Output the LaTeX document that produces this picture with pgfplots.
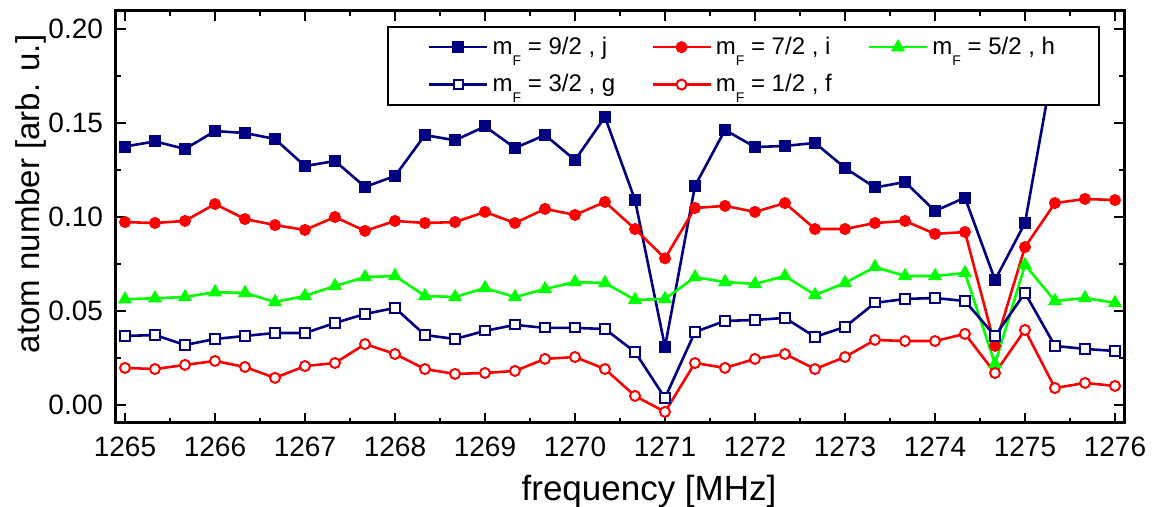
\documentclass[border=0pt]{standalone}
\usepackage{fontspec}
\setmainfont{Liberation Sans}
\usepackage{pgfplots}
\pgfplotsset{compat=1.18}
\usepackage{pgfplotstable}
\definecolor{navy}{RGB}{0,0,128}
\definecolor{pgreen}{RGB}{0,255,0}
\newcommand{\mF}{m\raisebox{-5.5pt}[0pt][0pt]{\fontsize{7}{8}\selectfont F}}

\pgfplotstableread{
x        j       i       h       g       f
1265.000 0.1375  0.0973  0.0562  0.0367  0.0197
1265.333 0.1402  0.0968  0.0568  0.0372  0.0191
1265.667 0.1362  0.0979  0.0574  0.0319  0.0213
1266.000 0.1457  0.1069  0.0600  0.0351  0.0234
1266.333 0.1447  0.0989  0.0596  0.0367  0.0202
1266.667 0.1415  0.0957  0.0548  0.0383  0.0144
1267.000 0.1271  0.0931  0.0580  0.0383  0.0207
1267.333 0.1298  0.1000  0.0633  0.0436  0.0223
1267.667 0.1160  0.0926  0.0680  0.0484  0.0324
1268.000 0.1218  0.0979  0.0686  0.0516  0.0271
1268.333 0.1436  0.0968  0.0580  0.0372  0.0191
1268.667 0.1408  0.0973  0.0574  0.0351  0.0165
1269.000 0.1482  0.1027  0.0622  0.0394  0.0170
1269.333 0.1367  0.0968  0.0574  0.0426  0.0181
1269.667 0.1436  0.1043  0.0617  0.0410  0.0245
1270.000 0.1303  0.1011  0.0654  0.0410  0.0255
1270.333 0.1532  0.1080  0.0649  0.0404  0.0191
1270.667 0.1090  0.0936  0.0559  0.0282  0.0048
1271.000 0.0309  0.0780  0.0564  0.0037  -0.0037
1271.333 0.1165  0.1048  0.0680  0.0388  0.0223
1271.667 0.1463  0.1059  0.0654  0.0447  0.0197
1272.000 0.1372  0.1027  0.0644  0.0452  0.0245
1272.333 0.1378  0.1074  0.0686  0.0463  0.0271
1272.667 0.1394  0.0936  0.0585  0.0362  0.0191
1273.000 0.1261  0.0936  0.0649  0.0415  0.0255
1273.333 0.1157  0.0968  0.0734  0.0543  0.0346
1273.667 0.1186  0.0979  0.0686  0.0564  0.0340
1274.000 0.1032  0.0910  0.0686  0.0569  0.0340
1274.333 0.1103  0.0920  0.0702  0.0553  0.0378
1274.667 0.0665  0.0314  0.0218  0.0367  0.0170
1275.000 0.0968  0.0840  0.0745  0.0596  0.0399
1275.333 0.1860  0.1074  0.0553  0.0314  0.0090
1275.667 nan     0.1096  0.0569  0.0298  0.0117
1276.000 nan     0.1090  0.0543  0.0287  0.0101
}\data

\begin{document}
\begin{tikzpicture}
\begin{axis}[
  scale only axis, width=504pt, height=206pt,
  xmin=1264.9, xmax=1276.1, ymin=-0.0096, ymax=0.2096,
  xtick={1265,1266,1267,1268,1269,1270,1271,1272,1273,1274,1275,1276},
  minor x tick num=1,
  ytick={0,0.05,0.1,0.15,0.2},
  minor y tick num=1,
  tick align=inside,
  major tick length=5pt, minor tick length=2.5pt,
  every tick/.style={black, line width=1pt},
  axis line style={black, line width=1.5pt},
  /pgf/number format/assume math mode=true,
  tick label style={font=\fontsize{14}{16}\selectfont},
  x tick label style={yshift=-3.5pt, /pgf/number format/1000 sep={}},
  y tick label style={xshift=-3pt, /pgf/number format/.cd, fixed, fixed zerofill, precision=2},
  xlabel={frequency [MHz]},
  ylabel={atom number [arb. u.]},
  xlabel style={font=\fontsize{17.5}{20}\selectfont, at={(axis description cs:0.5288,-0.165)}, anchor=center},
  ylabel style={font=\fontsize{16.5}{20}\selectfont, at={(axis description cs:-0.0839,0.556)}, anchor=center},
  legend columns=3,
  legend cell align=left,
  legend style={at={(axis description cs:0.9762,0.9636)}, anchor=north east,
    draw=black, line width=1pt, fill=white, font=\fontsize{12}{14}\selectfont,
    inner xsep=20pt, inner ysep=3pt, row sep=4.5pt,
    /tikz/every even column/.append style={column sep=16pt}},
  legend image code/.code={\draw[mark repeat=2, mark phase=2] plot coordinates {(0pt,0pt) (14.5pt,0pt) (29pt,0pt)};},
]
\addplot[navy, line width=1.3pt, mark=square*, mark size=2.75pt, mark options={fill=navy, draw=navy, line width=0.5pt}] table[x=x,y=j]{\data};
\addlegendentry{\mF{} = 9/2 , j}
\addplot[red, line width=1.3pt, mark=*, mark size=2.75pt, mark options={fill=red, draw=red, line width=0.5pt}] table[x=x,y=i]{\data};
\addlegendentry{\mF{} = 7/2 , i}
\addplot[pgreen, line width=1.3pt, mark=triangle*, mark size=3.6pt, mark options={fill=pgreen, draw=pgreen, line width=0.5pt}] table[x=x,y=h]{\data};
\addlegendentry{\mF{} = 5/2 , h}
\addplot[navy, line width=1.3pt, mark=square*, mark size=2.3pt, mark options={fill=white, draw=navy, line width=1pt}] table[x=x,y=g]{\data};
\addlegendentry{\mF{} = 3/2 , g}
\addplot[red, line width=1.3pt, mark=*, mark size=2.5pt, mark options={fill=white, draw=red, line width=1pt}] table[x=x,y=f]{\data};
\addlegendentry{\mF{} = 1/2 , f}
\end{axis}
\pgfresetboundingbox
\path (-58pt,-42pt) rectangle (518pt,211.5pt);
\end{tikzpicture}
\end{document}
